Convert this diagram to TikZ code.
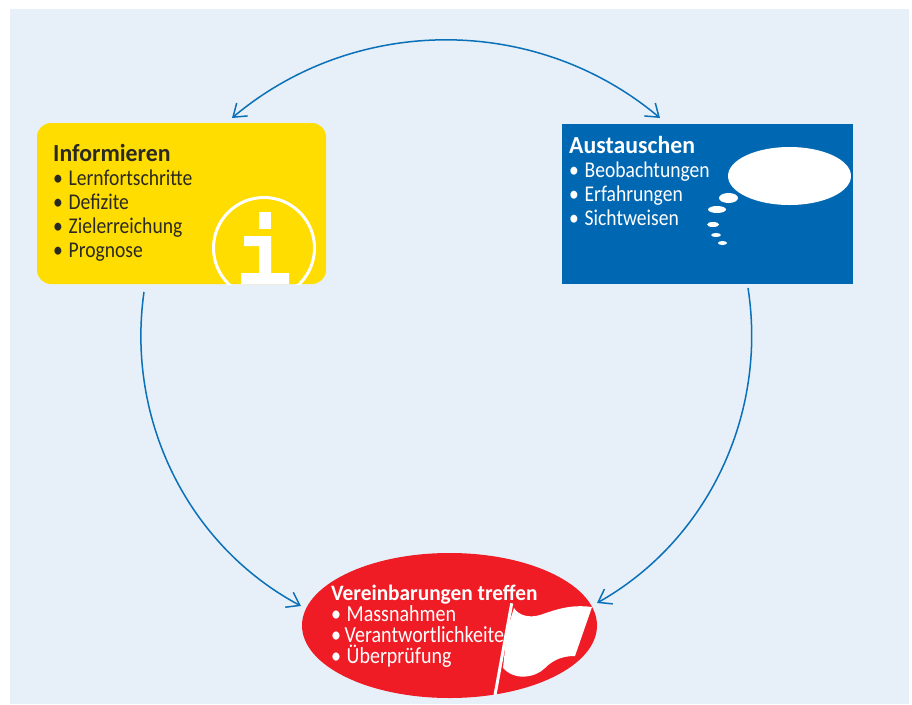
\documentclass[tikz,border=0pt]{standalone}
\usepackage{fontspec}
\setmainfont{Carlito}
\newfontfamily\itemfont[FakeStretch=0.87]{Carlito}
\newfontfamily\headfont[FakeStretch=0.97]{Carlito Bold}
\usetikzlibrary{arrows.meta,shapes.geometric}
\definecolor{panelc}{HTML}{E7F0F8}
\definecolor{yellowc}{HTML}{FFDD00}
\definecolor{bluec}{HTML}{0067B3}
\definecolor{redc}{HTML}{EF1C25}
\definecolor{arcc}{HTML}{0A70B8}
\definecolor{darkc}{HTML}{2B2A22}
\newcommand{\itm}[1]{\makebox[15.5pt][l]{•}#1}
\tikzset{
  x=1pt,y=-1pt,
  flow/.style={arcc,line width=1.5pt,-{Straight Barb[length=12pt,width=17pt,line width=1.5pt]}},
  flowboth/.style={arcc,line width=1.5pt,{Straight Barb[length=12pt,width=17pt,line width=1.5pt]}-{Straight Barb[length=12pt,width=17pt,line width=1.5pt]}},
  lbl/.style={font=\fontsize{22.5}{24}\selectfont\itemfont,align=left,inner sep=0pt,anchor=north west},
  puff/.style={fill=white,draw=none,ellipse,inner sep=0pt}
}
\begin{document}
\begin{tikzpicture}
\useasboundingbox (0,0) rectangle (912,704);
\fill[panelc] (10,9) rectangle (909,704);
% boxes
\node[draw=none,fill=yellowc,rounded corners=14pt,minimum width=289pt,minimum height=161pt,inner sep=0pt] (info) at (181.5,203.5) {};
\node[draw=none,fill=bluec,minimum width=291pt,minimum height=160pt,inner sep=0pt] (talk) at (707.5,204) {};
\node[draw=none,fill=redc,ellipse,minimum width=295pt,minimum height=145pt,inner sep=0pt] (agree) at (449.5,625.5) {};
% info icon
\begin{scope}
\clip (37,123) rectangle (326,284);
\draw[white,line width=3pt] (264,248) circle[radius=50.5];
\fill[white] (259,212) rectangle (271,229);
\fill[white] (244,236) -- (271,236) -- (271,273) -- (289,273) -- (289,284) -- (241,284) -- (241,273) -- (259,273) -- (259,246) -- (244,246) -- cycle;
\end{scope}
% thought bubbles
\node[puff,minimum width=123pt,minimum height=58pt] (cloud) at (789.5,176) {};
\node[puff,minimum width=19pt,minimum height=10pt] (p1) at (728.5,198) {};
\node[puff,minimum width=18pt,minimum height=7pt] (p2) at (717,209.5) {};
\node[puff,minimum width=12pt,minimum height=5pt] (p3) at (713,224.5) {};
\node[puff,minimum width=10pt,minimum height=4pt] (p4) at (716,235) {};
\node[puff,minimum width=9pt,minimum height=4pt] (p5) at (722.5,243) {};
% texts
\node[lbl,text=darkc] (infotext) at (53,144) {{\fontsize{24.5}{24}\selectfont\headfont Informieren}\\\itm{Lernfortschritte}\\\itm{Defizite}\\\itm{Zielerreichung}\\\itm{Prognose}};
\node[lbl,text=white] (talktext) at (569,136) {{\fontsize{24.5}{24}\selectfont\headfont Austauschen}\\\itm{Beobachtungen}\\\itm{Erfahrungen}\\\itm{Sichtweisen}};
\node[lbl,text=white,font=\fontsize{23}{21}\selectfont\itemfont] (agreetext) at (331,585) {{\fontsize{22}{21}\selectfont\headfont Vereinbarungen treffen}\\\itm{Massnahmen}\\\makebox[13.5pt][l]{•}Verantwortlichkeiten\\\itm{Überprüfung}};
% flag
\fill[white] (514,608) .. controls (519,616) and (530,618) .. (540,615) .. controls (555,610) and (570,604) .. (592,607) -- (575,656) .. controls (562,656) and (553,660) .. (545,668) .. controls (535,678) and (515,681) .. (503,668) -- (507,630) -- cycle;
\draw[white,line width=3pt] (511.7,603.3) -- (495,695);
% connectors
\coordinate (tl) at (232,118); \coordinate (tr) at (660,118);
\coordinate (ls) at (144,292); \coordinate (le) at (301,606);
\coordinate (rs) at (748,288); \coordinate (re) at (597,603);
\draw[flowboth] (tl) .. controls (355.6,14.2) and (536.4,14.2) .. (tr);
\draw[flow] (ls) .. controls (125.9,419.3) and (187.6,545.4) .. (le);
\draw[flow] (rs) .. controls (767.6,414) and (708.1,540.4) .. (re);
\end{tikzpicture}
\end{document}
